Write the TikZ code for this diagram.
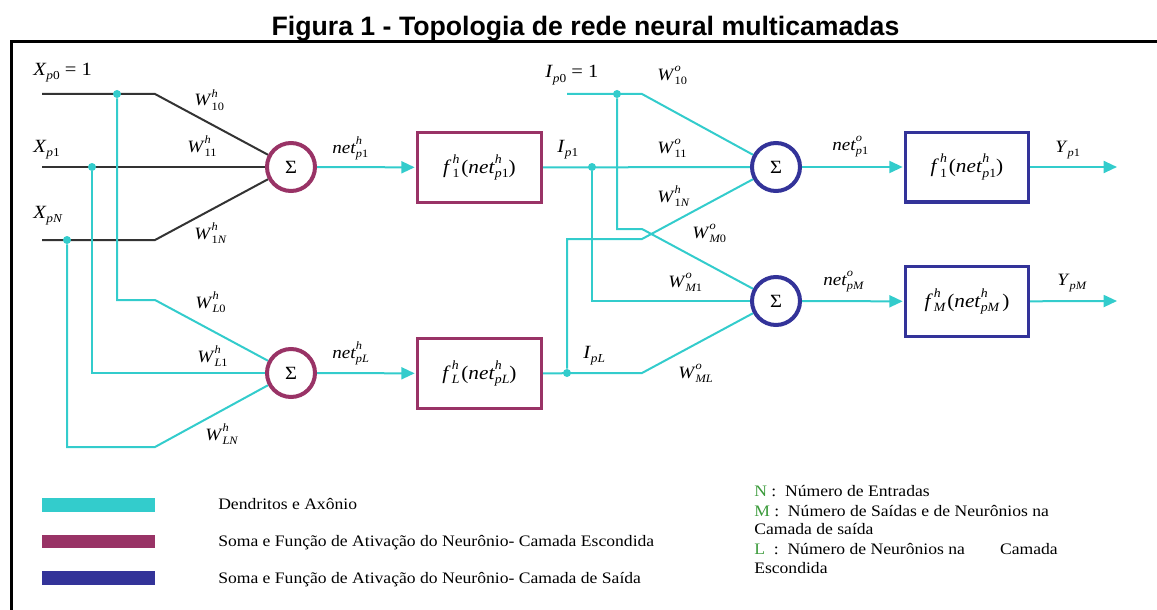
\documentclass[tikz,border=0pt]{standalone}
\usepackage{fontspec}
\setmainfont{Liberation Serif}[FakeStretch=1.1]
\newfontfamily\titlefont{Liberation Sans}
\usetikzlibrary{arrows.meta}
\definecolor{teal1}{HTML}{33CCCC}
\definecolor{hidc}{HTML}{993366}
\definecolor{outc}{HTML}{333399}
\definecolor{grn}{HTML}{3A9A3A}
\pgfdeclarelayer{bg}
\pgfsetlayers{bg,main}
\makeatletter
\newcommand\scrfont{\fontsize{\fpeval{0.65*\f@size}}{\fpeval{0.8*\f@size}}\selectfont}
\makeatother
\newcommand\scr[2]{\setbox0\hbox{\scrfont\itshape #1}\setbox2\hbox{\scrfont\itshape #2}%
  \rlap{\raisebox{0.5em}{\usebox0}}\raisebox{-0.24em}{\usebox2}%
  \ifdim\wd0>\wd2\kern\dimexpr\wd0-\wd2\relax\fi}
\newcommand\vr[3]{\textit{#1}\scr{#2}{#3}}
\begin{document}
\begin{tikzpicture}[x=0.75pt,y=-0.75pt,
  wire/.style={draw=teal1, line width=1.5pt},
  blk/.style={draw=black!80, line width=1.5pt},
  arr/.style={-{Triangle[length=10pt,width=9pt]}, shorten >=1pt},
  dot/.style={circle, fill=teal1, inner sep=0pt, minimum size=6pt},
  hs/.style={circle, draw=hidc, line width=3pt, minimum size=36pt, inner sep=0pt, font=\fontsize{14}{16}\selectfont},
  os/.style={circle, draw=outc, line width=3pt, minimum size=36pt, inner sep=0pt, font=\fontsize{14}{16}\selectfont},
  hb/.style={draw=hidc, line width=2.5pt, minimum width=92.75pt, minimum height=52.25pt, inner sep=0pt, font=\fontsize{14.5}{16}\selectfont},
  ob/.style={draw=outc, line width=2.5pt, minimum width=92pt, minimum height=52.25pt, inner sep=0pt, font=\fontsize{14.5}{16}\selectfont},
  lab/.style={anchor=base west, inner sep=0pt, font=\fontsize{13}{15}\selectfont},
  labx/.style={anchor=base west, inner sep=0pt, font=\fontsize{14}{16}\selectfont},
  legtxt/.style={anchor=base west, inner sep=0pt, font=\fontsize{12}{14}\selectfont},
  bar/.style={inner sep=0pt, minimum width=84.75pt, minimum height=10pt}
]
\useasboundingbox (0,0) rectangle (1157,610);

% title and frame
\node[anchor=base, inner sep=0pt, font=\titlefont\bfseries\fontsize{20}{22}\selectfont] (title) at (585.5,36) {Figura 1 - Topologia de rede neural multicamadas};
\draw[line width=2.25pt] (1157,42) -- (11,42) -- (11,610);

% neurons
\node[hs] (h1) at (291,167) {Σ};
\node[hs] (h2) at (291,373) {Σ};
\node[hb] (b1) at (479.5,167.5) {\textit{f}\kern0.05em\scr{h}{\upshape 1}\kern0.1em(\vr{net}{h}{p\upshape 1})};
\node[hb] (b2) at (479.5,373.5) {\textit{f}\kern0.05em\scr{h}{L}\kern0.1em(\vr{net}{h}{pL})};
\node[os] (o1) at (776,167) {Σ};
\node[os] (o2) at (776,301) {Σ};
\node[ob] (c1) at (967,167) {\textit{f}\kern0.05em\scr{h}{\upshape 1}\kern0.1em(\vr{net}{h}{p\upshape 1})};
\node[ob] (c2) at (967,301.5) {\textit{f}\kern0.05em\scr{h}{M}\kern0.1em(\vr{net}{h}{pM}\,)};

% points
\coordinate (x0) at (42,94);
\coordinate (x1) at (42,167);
\coordinate (xN) at (42,240);
\node[dot] (d0) at (117,94) {};
\node[dot] (d1) at (92,167) {};
\node[dot] (dN) at (67,240) {};
\coordinate (i0) at (567,94);
\node[dot] (e0) at (617,94) {};
\node[dot] (e1) at (592,167) {};
\node[dot] (eL) at (567,373) {};
\coordinate (y1) at (1117,167);
\coordinate (yM) at (1117,301);

\begin{pgfonlayer}{bg}
% hidden layer inputs (black)
\draw[blk] (x0) -- (155,94) -- (h1.152);
\draw[blk] (x1) -- (h1.west);
\draw[blk] (xN) -- (155,240) -- (h1.208);
% hidden layer inputs (teal)
\draw[wire] (d0) -- (117,300) -- (155,300) -- (h2.152);
\draw[wire] (d1) -- (92,373) -- (h2.west);
\draw[wire] (dN) -- (67,447) -- (155,447) -- (h2.208);
% hidden outputs
\draw[wire,arr] (h1) -- (b1);
\draw[wire,arr] (h2) -- (b2);
% output layer inputs
\draw[wire] (b1) -- (o1);
\draw[wire] (i0) -- (642,94) -- (o1.152);
\draw[wire] (e0) -- (617,229) -- (642,229) -- (o2.152);
\draw[wire] (e1) -- (592,301) -- (o2.west);
\draw[wire] (b2) -- (642,373) -- (o2.208);
\draw[wire] (eL) -- (567,239) -- (642,239) -- (o1.208);
% outputs
\draw[wire,arr] (o1) -- (c1);
\draw[wire,arr] (o2) -- (c2);
\draw[wire,-{Triangle[length=10pt,width=9pt]}] (c1) -- (y1);
\draw[wire,-{Triangle[length=10pt,width=9pt]}] (c2) -- (yM);
\end{pgfonlayer}

% labels
\node[labx] (lx0) at (33,75) {\vr{X}{}{p\upshape 0} = 1};
\node[labx] (lx1) at (33,152) {\vr{X}{}{p\upshape 1}};
\node[labx] (lxN) at (33,218) {\vr{X}{}{pN}};
\node[lab] (w10) at (194,106) {\vr{W}{h}{\upshape 10}};
\node[lab] (w11) at (187,152) {\vr{W}{h}{\upshape 11}};
\node[lab] (w1N) at (194,239) {\vr{W}{h}{\upshape 1\itshape N}};
\node[lab] (wL0) at (195,308) {\vr{W}{h}{L\upshape 0}};
\node[lab] (wL1) at (197,362) {\vr{W}{h}{L\upshape 1}};
\node[lab] (wLN) at (205,440) {\vr{W}{h}{LN}};
\node[lab] (nh1) at (332,153) {\vr{net}{h}{p\upshape 1}};
\node[lab] (nhL) at (332,358) {\vr{net}{h}{pL}};
\node[labx] (li0) at (545,78) {\vr{I}{}{p\upshape 0} = 1};
\node[lab] (wo10) at (657,80) {\vr{W}{o}{\upshape 10}};
\node[labx] (li1) at (557,152) {\vr{I}{}{p\upshape 1}};
\node[lab] (wo11) at (657,153) {\vr{W}{o}{\upshape 11}};
\node[lab] (wo1N) at (657,202) {\vr{W}{h}{\upshape 1\itshape N}};
\node[lab] (woM0) at (692,238) {\vr{W}{o}{M\upshape 0}};
\node[lab] (woM1) at (668,287) {\vr{W}{o}{M\upshape 1}};
\node[labx] (liL) at (583,358) {\vr{I}{}{pL}};
\node[lab] (woML) at (678,378) {\vr{W}{o}{ML}};
\node[lab] (no1) at (832,150) {\vr{net}{o}{p\upshape 1}};
\node[lab] (noM) at (823,285) {\vr{net}{o}{pM}};
\node[lab] (ly1) at (1055,152) {\vr{Y}{}{p\upshape 1}};
\node[lab] (lyM) at (1057,285) {\vr{Y}{}{pM}};

% legend
\node[bar, fill=teal1] (bar1) at (98.5,505) {};
\node[bar, fill=hidc] (bar2) at (98.5,541.5) {};
\node[bar, fill=outc] (bar3) at (98.5,578) {};
\node[legtxt] (t1) at (218,509) {Dendritos e Axônio};
\node[legtxt] (t2) at (218,546) {Soma e Função de Ativação do Neurônio- Camada Escondida};
\node[legtxt] (t3) at (218,583) {Soma e Função de Ativação do Neurônio- Camada de Saída};
\node[legtxt] (n1) at (754,496) {\textcolor{grn}{N} :\ \ Número de Entradas};
\node[legtxt] (n2) at (754,516) {\textcolor{grn}{M} :\ \ Número de Saídas e de Neurônios na};
\node[legtxt] (n3) at (754,534) {Camada de saída};
\node[legtxt] (n4) at (754,554) {\textcolor{grn}{L}\ \ :\ \ Número de Neurônios na\hspace{2.2em}Camada};
\node[legtxt] (n5) at (754,573) {Escondida};
\end{tikzpicture}
\end{document}
